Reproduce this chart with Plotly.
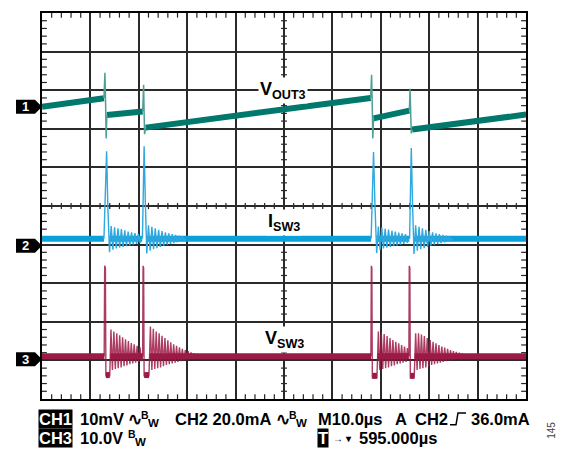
import plotly.graph_objects as go

# ---------------- data (time in µs, 10 µs/div; vertical in screen divisions, centre = 0) -------------
# CH1 (VOUT3) ramp segments
ch1_t = [0.0, 12.8, None, 13.4, 20.8, None, 21.4, 67.9, None, 68.5, 75.9, None, 76.5, 100.0]
ch1_v = [2.57, 2.79, None, 2.36, 2.45, None, 2.03, 2.80, None, 2.27, 2.47, None, 1.98, 2.37]
# CH1 switching edges (thin)
ch1_edge_t = [12.8, 13.0, 13.15, 13.25, 13.4, None,
              20.8, 21.0, 21.1, 21.2, 21.4, None,
              67.9, 68.1, 68.25, 68.35, 68.5, None,
              75.9, 76.05, 76.2, 76.3, 76.5]
ch1_edge_v = [2.79, 3.45, 2.6, 1.75, 2.36, None,
              2.45, 3.14, 2.4, 1.86, 2.03, None,
              2.80, 3.40, 2.5, 1.75, 2.27, None,
              2.47, 3.04, 2.3, 1.88, 1.98]

# CH2 (ISW3) baseline segments
ch2_t = [0.0, 12.8, None, 13.9, 20.7, None, 21.8, 68.0, None, 69.1, 75.9, None, 77.0, 100.0]
ch2_v = [-0.85, -0.85, None, -0.85, -0.85, None, -0.85, -0.85, None, -0.85, -0.85, None, -0.85, -0.85]
# CH2 spikes + ringing
ch2_b1_t = [12.8, 13.05, 13.35, 13.6, 13.95, 14.3, 14.65, 15.0, 15.35, 15.7, 16.05, 16.4, 16.75, 17.1,
            17.45, 17.8, 18.15, 18.5, 18.85, 19.2, 19.55, 19.9, 20.25, 20.6]
ch2_b1_v = [-0.85, 0.4, 1.42, 0.0, -1.2, -0.52, -1.13, -0.55, -1.1, -0.58, -1.08, -0.6, -1.06, -0.63,
            -1.04, -0.66, -1.02, -0.68, -1.0, -0.7, -0.98, -0.72, -0.96, -0.8]
ch2_b2_t = [20.75, 20.9, 21.1, 21.35, 21.65, 22.0, 22.35, 22.7, 23.05, 23.4, 23.75, 24.1, 24.45, 24.8,
            25.15, 25.5, 25.85, 26.2, 26.55, 26.9, 27.25, 27.6, 27.95, 28.3, 28.65, 29.0, 29.35, 29.7]
ch2_b2_v = [-0.85, 0.5, 1.55, 0.1, -1.23, -0.5, -1.16, -0.54, -1.12, -0.58, -1.09, -0.62, -1.06, -0.65,
            -1.03, -0.68, -1.0, -0.71, -0.98, -0.73, -0.96, -0.75, -0.94, -0.77, -0.92, -0.79, -0.9, -0.85]
ch2_b3_t = [68.0, 68.2, 68.5, 68.8, 69.15, 69.5, 69.85, 70.2, 70.55, 70.9, 71.25, 71.6, 71.95, 72.3,
            72.65, 73.0, 73.35, 73.7, 74.05, 74.4, 74.75, 75.1, 75.45, 75.8]
ch2_b3_v = [-0.85, 0.4, 1.4, 0.0, -1.22, -0.53, -1.14, -0.56, -1.1, -0.59, -1.08, -0.61, -1.06, -0.64,
            -1.04, -0.66, -1.02, -0.69, -1.0, -0.71, -0.98, -0.73, -0.95, -0.82]
ch2_b4_t = [75.95, 76.1, 76.3, 76.55, 76.85, 77.2, 77.55, 77.9, 78.25, 78.6, 78.95, 79.3, 79.65, 80.0,
            80.35, 80.7, 81.05, 81.4, 81.75, 82.1, 82.45, 82.8, 83.15, 83.5, 83.85, 84.2, 84.55, 84.9]
ch2_b4_v = [-0.85, 0.5, 1.5, 0.1, -1.24, -0.5, -1.16, -0.54, -1.12, -0.58, -1.09, -0.62, -1.06, -0.65,
            -1.03, -0.68, -1.0, -0.71, -0.98, -0.73, -0.96, -0.75, -0.94, -0.77, -0.92, -0.79, -0.9, -0.85]

# CH3 (VSW3) baseline segments and low plateaus
ch3_t = [0.0, 12.9, None, 14.1, 20.8, None, 22.2, 68.0, None, 69.3, 75.8, None, 77.0, 100.0]
ch3_v = [-3.89, -3.89, None, -3.89, -3.89, None, -3.89, -3.89, None, -3.89, -3.89, None, -3.89, -3.89]
ch3_low_t = [13.2, 14.0, None, 21.1, 22.1, None, 68.25, 69.2, None, 76.1, 76.9]
ch3_low_v = [-4.38, -4.38, None, -4.38, -4.38, None, -4.4, -4.4, None, -4.4, -4.4]
# CH3 spikes + ringing
ch3_b1_t = [12.85, 12.95, 13.1, 13.2, 14.0, 14.25, 14.55, 14.85, 15.15, 15.45, 15.75, 16.05, 16.35, 16.65,
            16.95, 17.25, 17.55, 17.85, 18.15, 18.45, 18.75, 19.05, 19.35, 19.65, 19.95, 20.25, 20.55, 20.75]
ch3_b1_v = [-3.89, -1.55, -1.6, -4.4, -4.4, -3.2, -4.25, -3.25, -4.22, -3.3, -4.2, -3.35, -4.18, -3.4,
            -4.15, -3.45, -4.13, -3.5, -4.1, -3.55, -4.08, -3.58, -4.06, -3.62, -4.04, -3.66, -4.02, -3.89]
ch3_b2_t = [20.8, 20.88, 21.0, 21.1, 22.1, 22.4, 22.7, 23.0, 23.3, 23.6, 23.9, 24.2, 24.5, 24.8, 25.1,
            25.4, 25.7, 26.0, 26.3, 26.6, 26.9, 27.2, 27.5, 27.8, 28.1, 28.4, 28.7, 29.0, 29.3, 29.6,
            29.9, 30.2, 30.5, 30.8, 31.1, 31.4, 31.7, 32.0, 32.3, 32.6]
ch3_b2_v = [-3.89, -1.55, -1.6, -4.4, -4.4, -3.12, -4.25, -3.18, -4.22, -3.25, -4.2, -3.3, -4.18, -3.36,
            -4.15, -3.42, -4.12, -3.48, -4.1, -3.53, -4.08, -3.58, -4.06, -3.62, -4.04, -3.66, -4.02,
            -3.7, -4.0, -3.73, -3.98, -3.76, -3.97, -3.79, -3.96, -3.81, -3.95, -3.83, -3.94, -3.89]
ch3_b3_t = [67.95, 68.05, 68.15, 68.25, 69.2, 69.5, 69.8, 70.1, 70.4, 70.7, 71.0, 71.3, 71.6, 71.9, 72.2,
            72.5, 72.8, 73.1, 73.4, 73.7, 74.0, 74.3, 74.6, 74.9, 75.2, 75.5, 75.75]
ch3_b3_v = [-3.89, -1.55, -1.6, -4.45, -4.45, -3.25, -4.25, -3.28, -4.22, -3.32, -4.2, -3.37, -4.18, -3.42,
            -4.15, -3.47, -4.13, -3.52, -4.1, -3.56, -4.08, -3.6, -4.06, -3.64, -4.04, -3.68, -3.89]
ch3_b4_t = [75.8, 75.88, 76.0, 76.1, 76.9, 77.2, 77.5, 77.8, 78.1, 78.4, 78.7, 79.0, 79.3, 79.6, 79.9,
            80.2, 80.5, 80.8, 81.1, 81.4, 81.7, 82.0, 82.3, 82.6, 82.9, 83.2, 83.5, 83.8, 84.1, 84.4,
            84.7, 85.0, 85.3, 85.6, 85.9, 86.2, 86.5, 86.8, 87.1, 87.4, 87.7, 88.0]
ch3_b4_v = [-3.89, -1.55, -1.6, -4.45, -4.45, -3.3, -4.25, -3.3, -4.22, -3.33, -4.2, -3.37, -4.18, -3.42,
            -4.15, -3.47, -4.12, -3.52, -4.1, -3.56, -4.08, -3.6, -4.06, -3.64, -4.04, -3.67, -4.02,
            -3.7, -4.0, -3.73, -3.98, -3.76, -3.97, -3.78, -3.96, -3.8, -3.95, -3.82, -3.94, -3.84,
            -3.93, -3.89]

trace_labels = ["V<sub>OUT3</sub>", "I<sub>SW3</sub>", "V<sub>SW3</sub>"]
channel_numbers = ["1", "2", "3"]

# ---------------- styling ----------------
W, H = 578, 449
L, R, T, B = 42, 526, 11, 399
TEAL, TEAL_L = "#00786c", "#4f9f96"
BLUE, BLUE_L = "#0aa0da", "#2ea8df"
RED, RED_L = "#9c1a46", "rgba(158,26,70,0.85)"
FONT = "Liberation Sans, Arial, sans-serif"


def px(x):
    return (x - L) / (R - L)


def py(y):
    return (B - y) / (B - T)


def join(*parts):
    out = []
    for i, p in enumerate(parts):
        if i:
            out.append(None)
        out.extend(p)
    return out


fig = go.Figure()
fig.add_trace(go.Scatter(x=ch1_t, y=ch1_v, mode="lines", line=dict(color=TEAL, width=6)))
fig.add_trace(go.Scatter(x=ch1_edge_t, y=ch1_edge_v, mode="lines", line=dict(color=TEAL_L, width=1.5)))
fig.add_trace(go.Scatter(x=ch2_t, y=ch2_v, mode="lines", line=dict(color=BLUE, width=6)))
fig.add_trace(go.Scatter(x=join(ch2_b1_t, ch2_b2_t, ch2_b3_t, ch2_b4_t),
                         y=join(ch2_b1_v, ch2_b2_v, ch2_b3_v, ch2_b4_v),
                         mode="lines", line=dict(color=BLUE_L, width=1.4)))
fig.add_trace(go.Scatter(x=ch3_t, y=ch3_v, mode="lines", line=dict(color=RED, width=6)))
fig.add_trace(go.Scatter(x=ch3_low_t, y=ch3_low_v, mode="lines", line=dict(color=RED, width=6)))
fig.add_trace(go.Scatter(x=join(ch3_b1_t, ch3_b2_t, ch3_b3_t, ch3_b4_t),
                         y=join(ch3_b1_v, ch3_b2_v, ch3_b3_v, ch3_b4_v),
                         mode="lines", line=dict(color=RED_L, width=1.4)))

shapes = []
tick_style = dict(color="#222", width=1.2)
# minor ticks on border and centre lines
for i in range(1, 50):
    xv = i * 2
    if xv % 10 == 0:
        continue
    shapes.append(dict(type="line", x0=xv, x1=xv, y0=5, y1=4.88, line=tick_style, layer="below"))
    shapes.append(dict(type="line", x0=xv, x1=xv, y0=-5, y1=-4.88, line=tick_style, layer="below"))
    shapes.append(dict(type="line", x0=xv, x1=xv, y0=-0.08, y1=0.08, line=tick_style, layer="below"))
for i in range(1, 50):
    yv = -5 + i * 0.2
    if abs(yv - round(yv)) < 1e-6:
        continue
    shapes.append(dict(type="line", x0=0, x1=1.0, y0=yv, y1=yv, line=tick_style, layer="below"))
    shapes.append(dict(type="line", x0=100, x1=99.0, y0=yv, y1=yv, line=tick_style, layer="below"))
    shapes.append(dict(type="line", x0=49.4, x1=50.6, y0=yv, y1=yv, line=tick_style, layer="below"))

# channel markers
marker_centres = [105.3, 245, 359]
for num, cy in zip(channel_numbers, marker_centres):
    path = "M {a},{t} L {b},{t} L {c},{m} L {b},{bt} L {a},{bt} Z".format(
        a=px(16), b=px(35), c=px(42), t=py(cy - 7), m=py(cy), bt=py(cy + 7))
    shapes.append(dict(type="path", path=path, xref="paper", yref="paper",
                       fillcolor="black", line=dict(width=0)))

# trigger edge symbol
shapes.append(dict(type="path", xref="paper", yref="paper",
                   path="M {},{} L {},{} L {},{} L {},{}".format(
                       px(450), py(425), px(456), py(425), px(458), py(413), px(466), py(413)),
                   line=dict(color="black", width=1.5)))

annotations = []
for num, cy in zip(channel_numbers, marker_centres):
    annotations.append(dict(x=px(25.5), y=py(cy), xref="paper", yref="paper", text="<b>%s</b>" % num,
                            showarrow=False, font=dict(family=FONT, size=13, color="white"),
                            xanchor="center", yanchor="middle"))

# in-plot trace labels
label_pos = [(44.6, 3.0), (46.3, -0.44), (45.7, -3.45)]
for txt_, (xv, yv) in zip(trace_labels, label_pos):
    annotations.append(dict(x=xv, y=yv, xref="x", yref="y", text="<b>%s</b>" % txt_, showarrow=False,
                            font=dict(family=FONT, size=18, color="black"), bgcolor="white",
                            borderpad=1, xanchor="left", yanchor="middle"))


def txt(x, y, s, size=16.5, color="black", bg=None):
    d = dict(x=px(x), y=py(y), xref="paper", yref="paper", text="<b>%s</b>" % s, showarrow=False,
             font=dict(family=FONT, size=size, color=color), xanchor="left", yanchor="middle",
             borderpad=0)
    if bg:
        d["bgcolor"] = bg
    annotations.append(d)


def bw(x, y):
    # bandwidth-limit glyph: small raised B, lowered W
    txt(x, y - 4, "B", size=10.5)
    txt(x + 7, y + 4.5, "W", size=11.5)


r1, r2 = 419, 438
txt(38, r1, "CH1", color="white", bg="black")
txt(79, r1, "10mV")
txt(127, r1, "∿")
bw(140, r1)
txt(174, r1, "CH2 20.0mA")
txt(275, r1, "∿")
bw(288, r1)
txt(317, r1, "M10.0µs")
txt(394, r1, "A")
txt(414, r1, "CH2")
txt(470, r1, "36.0mA")
txt(38, r2, "CH3", color="white", bg="black")
txt(79, r2, "10.0V")
bw(127, r2)
txt(317, r2, "T", color="white", bg="black")
txt(332, r2 + 1, "→ ▾", size=10)
txt(358, r2, "595.000µs")
annotations.append(dict(x=px(552), y=py(431), xref="paper", yref="paper", text="145", showarrow=False,
                        font=dict(family=FONT, size=10, color="#444"), textangle=-90,
                        xanchor="center", yanchor="middle"))

axis_common = dict(showgrid=True, gridcolor="#2a2a2a", gridwidth=1.5, showticklabels=False,
                   zeroline=False, showline=True, mirror=True, linecolor="black", linewidth=2,
                   ticks="", fixedrange=True)
fig.update_layout(
    width=W, height=H, margin=dict(l=L, r=W - R, t=T, b=H - B, pad=0),
    paper_bgcolor="white", plot_bgcolor="white", showlegend=False,
    xaxis=dict(range=[0, 100], dtick=10, tick0=0, **axis_common),
    yaxis=dict(range=[-5, 5], dtick=1, tick0=0, **axis_common),
    shapes=shapes, annotations=annotations,
)
fig.write_html("out.html", config={"displayModeBar": False},
               post_script="document.body.style.margin='0';document.body.style.overflow='hidden';")
